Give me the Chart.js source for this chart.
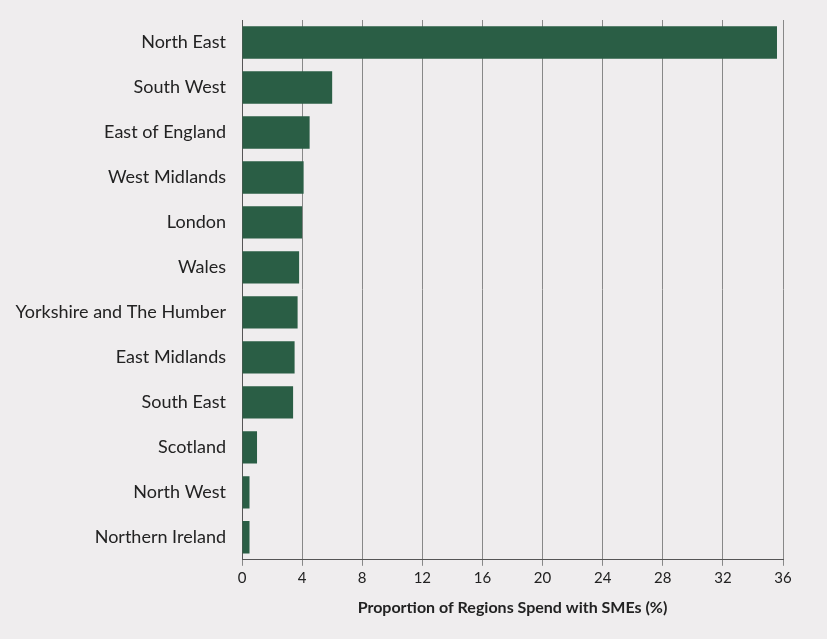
<!DOCTYPE html>
<html><head><meta charset="utf-8">
<script src="https://cdn.jsdelivr.net/npm/chart.js@4"></script>
<style>html,body{margin:0;background:#efedee;}#w{width:827px;height:639px;}</style>
</head><body><div id="w"><canvas id="c"></canvas></div>
<script>
const categories=["North East","South West","East of England","West Midlands","London","Wales","Yorkshire and The Humber","East Midlands","South East","Scotland","North West","Northern Ireland"];
const values=[35.6,6.0,4.5,4.1,4.0,3.8,3.7,3.5,3.4,1.0,0.5,0.5];
const xTicks=[0,4,8,12,16,20,24,28,32,36];
new Chart(document.getElementById('c'),{
type:'bar',
data:{labels:categories,datasets:[{data:values,backgroundColor:'#2a5e45',barPercentage:0.72,categoryPercentage:1}]},
options:{indexAxis:'y',responsive:true,maintainAspectRatio:false,animation:false,
layout:{padding:{top:20,right:44,left:0,bottom:18}},
plugins:{legend:{display:false},tooltip:{enabled:false}},
scales:{
x:{min:0,max:36,afterBuildTicks:a=>{a.ticks=xTicks.map(v=>({value:v}));},
grid:{color:'#888',drawTicks:true,tickLength:6},border:{color:'#555'},
ticks:{color:'#222',font:{family:'Lato',size:15}},
title:{display:true,text:'Proportion of Regions Spend with SMEs (%)',color:'#222',font:{family:'Lato',size:16,weight:'bold'},padding:{top:8}}},
y:{afterFit:s=>{s.width=242;},grid:{display:false},border:{color:'#555'},ticks:{color:'#222',font:{family:'Lato',size:18},padding:8}}
}}});
</script></body></html>
